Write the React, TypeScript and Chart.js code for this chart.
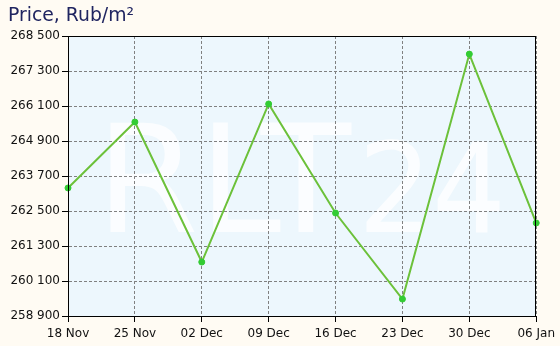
import React, { useEffect, useRef } from "react";
import { Chart, registerables } from "chart.js";

Chart.register(...registerables);

const categories = ["18 Nov", "25 Nov", "02 Dec", "09 Dec", "16 Dec", "23 Dec", "30 Dec", "06 Jan"];
const prices = [263290, 265550, 260750, 266170, 262430, 259480, 267880, 262090];
const yMin = 258900;
const yMax = 268500;
const yStep = 1200;
const titleText = "Price, Rub/m\u00B2";
const watermarkMain = "RLT";
const watermarkNum = "24";

const fmt = (v: number) => {
  const s = Math.round(v).toString();
  return s.replace(/\B(?=(\d{3})+(?!\d))/g, " ");
};

const bgPlugin = {
  id: "bgPlugin",
  beforeDraw(chart: any) {
    const { ctx, chartArea: a } = chart;
    ctx.save();
    ctx.fillStyle = "#fffbf3";
    ctx.fillRect(0, 0, chart.width, chart.height);
    ctx.fillStyle = "#edf7fd";
    ctx.fillRect(a.left, a.top, a.right - a.left, a.bottom - a.top);
    // watermark
    ctx.fillStyle = "rgba(255,255,255,0.75)";
    ctx.textBaseline = "alphabetic";
    ctx.textAlign = "left";
    ctx.font = "150px 'DejaVu Sans'";
    const w1 = ctx.measureText(watermarkMain).width;
    ctx.save();
    ctx.translate(a.left + 28, a.top + 196);
    ctx.scale(255 / w1, 1);
    ctx.fillText(watermarkMain, 0, 0);
    ctx.restore();
    ctx.font = "125px 'DejaVu Sans'";
    const w2 = ctx.measureText(watermarkNum).width;
    ctx.save();
    ctx.translate(a.left + 290, a.top + 196);
    ctx.scale(148 / w2, 1);
    ctx.fillText(watermarkNum, 0, 0);
    ctx.restore();
    // title
    ctx.fillStyle = "#1f2460";
    ctx.font = "19px 'DejaVu Sans'";
    ctx.textBaseline = "alphabetic";
    const tw = ctx.measureText(titleText).width;
    ctx.save();
    ctx.translate(8, 21);
    ctx.scale(126 / tw, 1);
    ctx.fillText(titleText, 0, 0);
    ctx.restore();
    ctx.restore();
  },
  afterDraw(chart: any) {
    const { ctx, chartArea: a } = chart;
    ctx.save();
    ctx.strokeStyle = "#000";
    ctx.lineWidth = 1;
    ctx.strokeRect(Math.round(a.left) + 0.5, Math.round(a.top) + 0.5, Math.round(a.right - a.left) - 1, Math.round(a.bottom - a.top));
    ctx.restore();
  },
};

export default function App() {
  const ref = useRef<HTMLCanvasElement>(null);
  useEffect(() => {
    const chart = new Chart(ref.current as HTMLCanvasElement, {
      type: "line",
      data: {
        labels: categories,
        datasets: [
          {
            data: prices,
            borderColor: "#6cc13a",
            borderWidth: 2,
            pointBackgroundColor: "#33cc33",
            pointBorderColor: "#33cc33",
            pointRadius: 3,
            pointBorderWidth: 1,
            tension: 0,
          },
        ],
      },
      options: {
        animation: false,
        responsive: false,
        maintainAspectRatio: false,
        layout: { padding: { top: 36, right: 23, left: 0, bottom: 0 } },
        plugins: { legend: { display: false }, tooltip: { enabled: false }, title: { display: false } },
        scales: {
          x: {
            offset: false,
            grid: {
              color: "#808080",
              tickColor: "#000",
              tickLength: 6,
              tickBorderDash: [],
            } as any,
            border: { display: true, color: "#000", width: 1, dash: [3, 2] } as any,
            ticks: {
              color: "#111",
              font: { family: "'DejaVu Sans'", size: 12 },
              padding: 5,
              maxRotation: 0,
              autoSkip: false,
            },
            afterFit(scale: any) {
              scale.height = 30;
            },
          },
          y: {
            min: yMin,
            max: yMax,
            grid: {
              color: "#808080",
              tickColor: "#000",
              tickLength: 6,
              tickBorderDash: [],
            } as any,
            border: { display: true, color: "#000", width: 1, dash: [3, 2] } as any,
            ticks: {
              stepSize: yStep,
              color: "#111",
              font: { family: "'DejaVu Sans'", size: 12 },
              padding: 2,
              callback: (v: any) => fmt(Number(v)),
            },
            afterFit(scale: any) {
              scale.width = 68;
            },
          },
        },
      },
      plugins: [bgPlugin],
    });
    return () => chart.destroy();
  }, []);
  return (
    <div style={{ position: "fixed", left: 0, top: 0, width: 560, height: 346 }}>
      <canvas ref={ref} width={560} height={346} style={{ display: "block" }} />
    </div>
  );
}
